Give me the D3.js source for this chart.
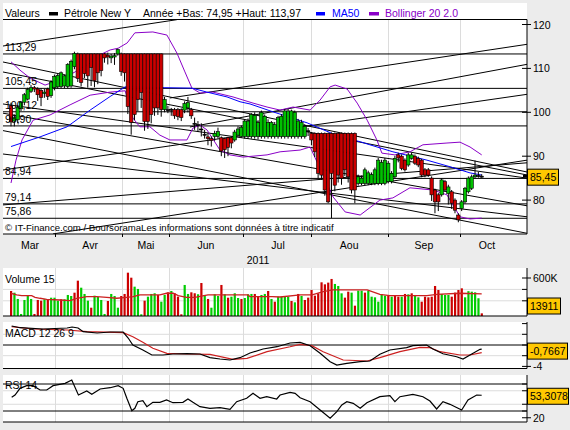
<!DOCTYPE html>
<html><head><meta charset="utf-8">
<script src="https://d3js.org/d3.v7.min.js"></script>
<style>
html,body{margin:0;padding:0;background:#ececec;}
svg{display:block;}
text{font-family:"Liberation Sans",Arial,Helvetica,sans-serif;}
</style></head><body>
<svg id="chart" width="570" height="430"></svg>
<script>
// ================= DATA =================
const months = ["Mar","Avr","Mai","Jun","Jul","Aou","Sep","Oct"];
const monthLabelIdx = [5.7,23.7,40.4,58.4,80,101.3,123.7,142.6];
const gridIdx = [13.2,33.2,47.3,69.5,89.9,112.9,134.5];
const yearLabel = "2011";

const priceTicks = [120,110,100,90,80];
const levels = [113.29,105.45,100.12,96.90,84.94,79.14,75.86];
const levelLabels = ["113,29","105,45","100,12","96,90","84,94","79,14","75,86"];

const opens = [101.5,98.0,98.3,100.8,102.3,103.0,104.8,105.6,105.3,105.0,104.3,105.3,103.8,105.6,105.8,105.9,106.0,105.9,106.0,110.4,
113.3,113.3,113.3,113.3,113.3,113.3,113.3,113.3,113.3,113.0,112.4,112.6,113.3,113.3,113.3,113.3,113.3,113.3,113.3,113.3,
113.3,113.3,113.3,113.3,113.3,113.3,100.6,100.6,100.6,100.6,100.6,100.6,100.5,101.0,100.6,97.5,97.0,96.2,94.8,94.4,
94.0,94.5,94.5,94.2,94.0,94.2,94.2,93.7,94.8,94.5,94.5,94.5,94.5,94.5,94.5,94.5,94.5,94.5,94.5,94.5,
94.5,94.5,94.5,94.5,94.5,94.5,94.5,94.5,94.5,95.8,95.2,95.2,95.2,95.2,95.2,95.2,95.2,95.2,95.2,95.2,
95.2,95.2,95.2,95.2,83.8,83.8,83.8,83.8,83.8,83.8,83.8,83.8,83.8,84.2,84.2,85.3,90.3,90.0,89.1,88.0,
89.5,90.0,89.5,89.1,86.9,86.9,85.0,82.3,81.2,81.2,84.2,81.5,81.9,80.0,76.6,78.1,79.6,81.9,82.7,85.3,
85.5,85.45];
const highs = [102.2,99.5,101.6,102.6,104.4,105.6,106.2,106.0,105.7,105.5,105.3,105.6,107.3,108.6,108.8,109.3,108.6,111.2,112.0,113.8,
113.6,113.4,113.4,113.4,113.4,113.4,113.4,113.4,113.5,113.6,113.3,113.5,114.5,113.6,113.4,113.4,113.4,113.4,113.4,113.4,
113.4,113.4,113.4,113.4,113.4,113.4,103.5,101.5,101.0,101.0,101.0,100.9,102.5,103.5,101.0,98.8,98.0,97.5,96.0,95.3,
94.5,95.8,96.5,94.5,94.2,94.4,94.4,96.0,96.8,97.0,98.4,98.6,99.8,100.0,98.2,100.4,99.5,98.4,98.0,97.8,
99.2,99.6,100.7,100.8,100.6,100.4,98.5,98.3,97.3,96.4,95.5,95.4,95.4,95.4,95.4,95.4,95.4,95.4,95.4,95.4,
95.4,95.4,95.4,95.4,85.8,85.6,87.4,86.7,86.3,87.4,89.6,89.2,89.6,88.9,86.6,90.1,90.8,90.4,89.5,90.8,
90.8,90.4,89.9,89.4,87.3,87.3,85.4,82.6,81.6,85.0,84.6,83.5,82.3,80.4,77.0,80.0,83.0,85.4,85.8,89.0,
86.4,85.9];
const lows = [96.8,96.8,97.5,100.3,101.6,102.7,104.4,104.6,102.6,101.4,103.3,102.8,103.3,105.0,105.4,105.5,105.5,105.5,105.6,109.8,
106.9,105.9,107.8,105.6,106.0,105.7,106.4,108.2,111.3,110.9,111.2,110.8,112.9,108.3,107.0,99.6,94.9,98.2,100.2,101.0,
95.8,96.2,97.5,99.2,99.4,99.0,100.0,99.8,99.2,98.5,98.2,98.0,99.8,100.0,98.5,96.0,95.5,94.5,94.0,92.5,
92.2,93.5,94.0,90.0,89.6,90.0,91.8,93.3,94.5,94.2,94.0,94.0,94.0,94.0,93.8,94.0,94.0,94.0,94.0,94.0,
94.0,94.0,94.0,94.0,94.0,94.0,94.0,94.0,94.0,94.6,92.5,89.8,85.0,84.6,81.0,79.3,75.9,82.0,84.0,83.5,
85.5,84.0,81.5,79.3,83.3,83.4,83.4,83.4,83.4,83.4,83.4,83.4,83.4,83.8,83.8,85.0,88.6,86.8,86.5,87.6,
89.2,88.0,87.5,85.2,85.2,85.3,79.8,77.0,77.5,80.8,81.9,79.0,78.0,77.0,74.95,77.5,79.2,81.5,82.3,85.0,
85.1,85.1];
const closes = [97.8,98.8,101.2,102.3,104.0,105.2,105.6,105.3,104.0,103.4,104.6,103.6,106.9,108.2,108.4,109.0,108.3,110.9,111.6,113.4,
107.7,106.8,108.8,108.3,110.2,107.2,109.0,109.5,112.4,112.6,112.8,112.9,114.3,109.3,109.0,101.3,97.7,99.5,102.9,104.5,
97.9,97.9,99.5,101.0,101.0,100.6,102.9,100.5,100.7,99.2,99.0,98.8,102.0,102.2,99.2,97.3,97.2,96.0,95.0,94.0,
93.6,95.2,95.6,91.2,91.5,92.0,93.0,95.5,96.2,96.6,98.0,98.0,99.5,99.3,97.7,100.0,99.1,97.7,97.7,97.2,
98.8,99.1,100.3,100.3,100.3,100.0,98.0,97.7,96.8,95.6,93.7,91.0,86.1,85.7,82.3,79.6,86.1,83.4,85.7,85.0,
86.9,85.3,82.3,82.3,85.3,85.0,86.9,86.2,85.8,86.9,89.1,88.6,89.1,88.4,86.1,89.5,89.6,87.2,86.9,90.3,
90.3,88.4,88.0,85.7,85.7,85.7,81.2,79.6,79.6,84.6,82.3,83.0,79.3,77.7,75.5,79.6,82.7,85.0,85.3,85.7,
85.6,85.45];

// volume (thousands) and bar direction (1 = up/green, 0 = down/red)
const volumes = [395,368,269,32,253,321,269,32,253,242,264,264,289,289,242,264,264,332,316,368,
558,447,348,242,131,321,300,253,32,237,348,316,131,316,348,684,605,463,427,27,
242,305,348,359,332,226,332,374,395,359,305,27,490,348,374,359,343,521,332,269,
131,343,316,490,343,289,305,359,284,269,284,343,348,348,305,332,348,395,269,226,
305,305,305,305,237,216,348,316,253,290,411,321,358,532,500,527,585,506,474,358,
290,384,369,163,400,400,369,400,305,295,226,342,321,321,305,316,305,305,348,342,
358,332,295,226,305,295,305,474,411,348,332,332,305,369,411,437,295,392,384,374,
280,42];
const volUp = [0,1,1,1,1,1,1,0,0,0,1,0,1,1,1,0,1,1,1,0,
0,1,1,1,0,1,1,1,1,0,1,1,1,0,0,0,0,1,1,1,
0,1,1,1,0,1,1,0,1,0,0,0,1,1,0,0,1,0,1,0,
1,1,1,0,1,0,1,1,1,0,1,1,1,0,0,1,1,0,1,0,
1,1,1,1,0,1,0,1,0,0,0,0,0,0,0,0,0,1,1,1,
0,0,1,0,1,1,0,1,1,1,1,1,1,0,1,0,0,1,0,1,
0,1,1,0,0,0,0,0,0,1,1,1,0,0,0,0,1,1,1,1,
1,0];
const volMaIdx = [0,1.7,3.2,6.2,7.2,8.7,10.7,14.7,17.7,19.7,22.7,25.7,28.7,31.7,34.7,36.6,38.6,44.6,46.6,48.6,50.1,52.6,55.1,59,71,71.6,78.2,80.6,86.6,90.2,93.5,96.5,106.7,110.5,113.5,124.6,127.6,134.5,141];
const volMaVal = [359,332,321,321,295,280,264,253,242,280,305,305,295,280,295,305,332,332,359,359,321,295,295,332,332,305,305,300,332,332,384,411,411,343,321,321,343,359,348];

const ma50Idx = [0,8.7,16.8,23.7,29.7,34.2,35.7,46.1,54.2,58.7,64.7,68.6,71.6,78.5,88.7,98.6,104.6,107.5,114.4,124.6,131.5,137.5,141];
const ma50Val = [92.2,94.4,96.7,100.5,103.6,105.8,105.8,105.6,105.5,104.6,103.5,102.4,101.9,100.1,97.6,94.4,93.3,92.6,91.0,89.1,87.6,86.2,85.7];

const bbUpIdx = [0,2.7,5.7,10.2,14.7,19.2,23.7,26.7,29.7,32.1,34.8,37.1,42.5,46.7,49.7,52.1,54.2,56.6,60.5,66.5,72.5,76.7,80.6,84.5,89.6,92.6,95.6,97.1,100.7,103.7,106.7,109.6,111.1,115,119.5,123.4,130.6,134.5,137.5,141];
const bbUpVal = [111.5,109.6,107.8,106.2,107.4,109.2,111.2,113.1,114.2,114.6,115.8,118.1,118.3,117.6,113.5,109.2,105.5,104.4,104.6,103.5,102.1,101.2,100.5,101.2,100.5,102.8,105.8,106.2,105.3,102.1,98.2,93.7,90.7,90.3,91.0,92.6,93.0,93.2,92.1,90.3];
const bbLoIdx = [0,1.5,3.3,6.6,11.7,17.7,23.7,29.7,34.2,36.5,38.6,41.6,44.6,47.6,52.7,54.5,56.6,58.7,62.6,65.6,69.5,76.7,80.6,86.6,89.6,96.5,100.1,104.6,110.5,114.4,119.5,126.4,130.6,134.5,137.5,141];
const bbLoVal = [83.9,89.1,93.7,98.2,99.4,101.7,103.9,104.6,104.9,98.7,96.7,96.7,94.8,93.7,93.7,96.4,97.1,96.0,91.4,90.3,89.8,90.3,91.0,91.4,92.1,80.7,77.3,76.6,80.0,80.5,82.8,82.3,81.2,76.2,75.7,75.9];

// trend lines: [idx1, value1, idx2, value2]
const trendLines = [
  [-2.4,115.1,49.7,121.1],
  [47.6,103.26,154.6,115.49],
  [53.6,96.65,154.6,110.93],
  [-2.4,86.86,154.6,104.10],
  [-2.4,111.46,154.6,86.40],
  [-2.4,109.18,154.6,85.72],
  [-2.4,101.9,154.6,85.0],
  [-2.4,99.8,154.6,78.7],
  [-2.4,90.5,154.6,76.2],
  [-2.4,95.83,154.6,72.44],
  [12.6,72.3,154.6,89.1],
  [-2.4,78.9,154.6,88.5]
];

const macdIdx = [0.2,2.7,9.6,16.8,18.3,20.1,21.6,25.8,29.7,33.6,35.1,36.5,39.5,42.2,45.5,48.5,52.7,56.6,59.6,62.6,65.6,68.6,71.6,75.5,79.7,83.6,86.6,89.6,92.6,95.6,97.6,100.6,104.6,107.5,110.5,113.5,118.5,120.4,124.5,126.4,129.4,133.5,135.4,137.5,140.5,141];
const macdVal = [3.55,3.23,2.99,3.18,3.36,3.18,2.49,2.24,2.43,2.43,1.31,0,-0.93,-1.87,-1.87,-1.68,-1.63,-1.68,-2.37,-2.62,-2.80,-2.37,-1.50,-0.75,-0.32,0.37,0.50,-0.13,-1.55,-3.12,-3.74,-3.42,-3.12,-2.99,-1.74,-0.93,-0.50,-0.13,0,-0.75,-1.63,-2.19,-2.62,-1.87,-0.80,-0.77];
const sigIdx = [0.2,6.6,16.8,22.8,33.6,36.5,39.5,42.5,46.7,52.7,59.6,66.5,70.7,76.7,83.6,86.6,90.1,93.5,99.5,106.7,110.5,116.5,122.5,125.5,128.5,134.5,137.5,141];
const sigVal = [3.42,2.99,2.80,2.49,2.30,1.55,0.50,-0.62,-1.55,-1.68,-1.74,-2.67,-2.49,-1.25,-0.32,0.13,-0.13,-1.25,-2.80,-2.99,-2.37,-1.25,-0.43,-0.50,-1.25,-1.87,-1.87,-1.44];

const rsiIdx = [0.2,1.2,2.7,4.7,6.6,8.7,10.7,11.7,12.6,16.2,18.2,20.2,22.7,24.2,26.7,29.7,32.1,33.6,34.7,36.2,37.1,38,39.5,40.7,42.5,44.6,46.6,48.5,51.5,53,54.5,56.6,59.6,62.6,65.6,67.6,70.6,72.5,74.6,76.6,79.6,80.6,83.6,85.1,86.6,89.6,92.6,95.6,97.6,99.1,100.6,102.5,104.6,106.6,110.5,113.5,115,116.5,120.4,123.4,125.5,127.5,129.4,131.5,135,136.9,139.5,141];
const rsiVal = [50.3,53.7,63.6,67.5,67.5,61.1,61.1,64.5,67.5,71.0,75.9,53.7,59.6,54.7,62.6,64.5,67.5,63.6,48.8,30.4,34.0,43.8,45.3,36.4,42.9,42.9,46.3,42.3,42.9,47.8,42.9,36.4,34.0,34.9,32.5,43.8,48.8,56.2,48.8,51.2,47.8,53.7,57.7,56.2,49.7,43.8,31.5,19.2,29.0,38.9,43.8,41.4,34.0,42.3,51.2,52.7,43.8,51.2,54.7,51.2,44.8,33.0,43.8,39.9,31.5,46.3,53.7,53.3];

const lastPrice = "85,45", lastVolume = "13911", lastMacd = "-0,7667", lastRsi = "53,3078";
const lastPriceVal = 85.45, lastMacdVal = -0.7667, lastRsiVal = 53.3078;

// ================= LAYOUT =================
const svg = d3.select("#chart");
const L = 3, R = 527;
const mainTop = 19.5, mainBot = 234;
const RED = "#cc0000", GREEN = "#00c000", PURPLE = "#8a00c8";

const x = d3.scaleLinear().domain([0,141]).range([11,481.7]);
const y = d3.scaleLinear().domain([80,120]).range([200.1,24.5]);
const yV = d3.scaleLinear().domain([0,600]).range([316,278]);
const yM = d3.scaleLinear().domain([-4,0]).range([366.4,345]);
const yR = d3.scaleLinear().domain([30,70]).range([411,384]);

const defs = svg.append("defs");
function clip(id, y0, y1){
  defs.append("clipPath").attr("id",id).append("rect").attr("x",L).attr("y",y0).attr("width",R-L).attr("height",y1-y0);
}
clip("cMain", mainTop, mainBot); clip("cVol",268,316); clip("cMacd",322,368.5); clip("cRsi",375,422);

svg.append("rect").attr("x",L).attr("y",3).attr("width",R-L).attr("height",mainBot-3).attr("fill","#fff");
[[268,316],[322,368.5],[375,422]].forEach(p=>svg.append("rect").attr("x",L).attr("y",p[0]).attr("width",R-L).attr("height",p[1]-p[0]).attr("fill","#fff"));

[[mainTop,mainBot],[268,316],[322,368.5],[375,422]].forEach(p=>{
  svg.append("g").selectAll("line").data(gridIdx).join("line")
    .attr("x1",d=>Math.round(x(d))+0.5).attr("x2",d=>Math.round(x(d))+0.5)
    .attr("y1",p[0]).attr("y2",p[1]).attr("stroke","#dcdcdc");
});

const T = svg.append("g").attr("font-size",10.5);
T.append("text").attr("x",5).attr("y",16.5).text("Valeurs");
T.append("rect").attr("x",49).attr("y",12).attr("width",9).attr("height",3.5).attr("fill","#000");
T.append("text").attr("x",64).attr("y",16.5).text("Pétrole New Y");
T.append("text").attr("x",143).attr("y",16.5).text("Année +Bas: 74,95 +Haut: 113,97");
T.append("rect").attr("x",316).attr("y",12).attr("width",9).attr("height",3.5).attr("fill","#0000ff");
T.append("text").attr("x",332).attr("y",16.5).attr("fill","#0000ff").text("MA50");
T.append("rect").attr("x",369).attr("y",12).attr("width",10).attr("height",3.5).attr("fill",PURPLE);
T.append("text").attr("x",385).attr("y",16.5).attr("fill",PURPLE).text("Bollinger 20 2.0");

const gm = svg.append("g").attr("clip-path","url(#cMain)");
gm.append("g").selectAll("line").data(levels).join("line")
  .attr("x1",L).attr("x2",R).attr("y1",d=>y(d)).attr("y2",d=>y(d)).attr("stroke","#000");
gm.append("g").selectAll("line").data(trendLines).join("line")
  .attr("x1",d=>x(d[0])).attr("y1",d=>y(d[1])).attr("x2",d=>x(d[2])).attr("y2",d=>y(d[3]))
  .attr("stroke","#000");
const lineP = (ix,vals,ys)=>d3.line().x((d,i)=>x(ix[i])).y(d=>ys(d))(vals);
gm.append("path").attr("d",lineP(bbUpIdx,bbUpVal,y)).attr("fill","none").attr("stroke",PURPLE);
gm.append("path").attr("d",lineP(bbLoIdx,bbLoVal,y)).attr("fill","none").attr("stroke",PURPLE);
gm.append("path").attr("d",lineP(ma50Idx,ma50Val,y)).attr("fill","none").attr("stroke","#0000ff");
const cg = gm.append("g");
closes.forEach((c,i)=>{
  const o = opens[i], xi = x(i);
  cg.append("line").attr("x1",xi).attr("x2",xi).attr("y1",y(highs[i])).attr("y2",y(lows[i])).attr("stroke","#000");
  const top = y(Math.max(o,c)), bot = y(Math.min(o,c));
  const doji = Math.abs(o-c) < 0.25;
  cg.append("rect").attr("x",xi-1.7).attr("width",3.4).attr("y",top).attr("height",Math.max(1,bot-top))
    .attr("fill", doji ? "#000" : (c<o ? RED : GREEN)).attr("stroke","#000").attr("stroke-width",0.6);
});
svg.append("g").attr("font-size",10.5).selectAll("text").data(levels).join("text")
  .attr("x",5).attr("y",d=>y(d)-3).text((d,i)=>levelLabels[i]);
svg.append("text").attr("x",5).attr("y",231).attr("font-size",9.6).text("© IT-Finance.com / BoursoramaLes informations sont données à titre indicatif");
svg.append("line").attr("x1",L).attr("x2",R).attr("y1",mainTop).attr("y2",mainTop).attr("stroke","#000");
svg.append("line").attr("x1",L).attr("x2",R).attr("y1",mainBot).attr("y2",mainBot).attr("stroke","#000");
svg.append("line").attr("x1",R).attr("x2",R).attr("y1",mainTop).attr("y2",mainBot).attr("stroke","#000");
const ga = svg.append("g").attr("font-size",10.5);
priceTicks.forEach(t=>{
  ga.append("line").attr("x1",R).attr("x2",R+4).attr("y1",y(t)).attr("y2",y(t)).attr("stroke","#000");
  ga.append("line").attr("x1",R-5).attr("x2",R).attr("y1",y(t)).attr("y2",y(t)).attr("stroke","#000");
  ga.append("text").attr("x",R+6).attr("y",y(t)+4).text(t);
});
svg.append("rect").attr("x",523).attr("y",y(lastPriceVal)-1.5).attr("width",4).attr("height",3).attr("fill","#000");
function box(yc,label,w){
  svg.append("rect").attr("x",R+0.5).attr("y",yc-8).attr("width",w).attr("height",16).attr("fill","#ffc800").attr("stroke","#000");
  svg.append("text").attr("x",R+3).attr("y",yc+4).attr("font-size",10.5).text(label);
}
box(y(lastPriceVal)+1,lastPrice,31);

svg.append("g").selectAll("line").data(gridIdx).join("line")
  .attr("x1",d=>Math.round(x(d))+0.5).attr("x2",d=>Math.round(x(d))+0.5).attr("y1",mainBot).attr("y2",mainBot+3).attr("stroke","#000");
svg.append("g").attr("font-size",10.5).selectAll("text").data(months).join("text")
  .attr("x",(d,i)=>x(monthLabelIdx[i])).attr("y",249).attr("text-anchor","middle").text(d=>d);
svg.append("text").attr("x",x(74)).attr("y",264).attr("font-size",10.5).attr("text-anchor","middle").text(yearLabel);

const gv = svg.append("g").attr("clip-path","url(#cVol)");
[240,420].forEach(t=>gv.append("line").attr("x1",L).attr("x2",R).attr("y1",yV(t)).attr("y2",yV(t)).attr("stroke","#dcdcdc"));
gv.append("g").selectAll("rect").data(volumes).join("rect")
  .attr("x",(d,i)=>x(i)-1).attr("width",2.2).attr("y",d=>yV(d)).attr("height",d=>316-yV(d))
  .attr("fill",(d,i)=>volUp[i]?"#00cc00":"#cc0000");
gv.append("path").attr("d",lineP(volMaIdx,volMaVal,yV)).attr("fill","none").attr("stroke","#cc2020").attr("stroke-width",1.3);
svg.append("text").attr("x",5).attr("y",283).attr("font-size",10.5).text("Volume 15");
svg.append("line").attr("x1",L).attr("x2",R).attr("y1",316).attr("y2",316).attr("stroke","#000");
svg.append("line").attr("x1",R).attr("x2",R).attr("y1",268).attr("y2",316).attr("stroke","#000");
[600,420,240].forEach(t=>svg.append("line").attr("x1",R-5).attr("x2",R).attr("y1",yV(t)).attr("y2",yV(t)).attr("stroke","#000"));
svg.append("line").attr("x1",R).attr("x2",R+4).attr("y1",yV(600)).attr("y2",yV(600)).attr("stroke","#000");
svg.append("text").attr("x",R+6).attr("y",yV(600)+4).attr("font-size",10.5).text("600K");
box(306,lastVolume,33);

const gmc = svg.append("g").attr("clip-path","url(#cMacd)");
[2,-2].forEach(t=>gmc.append("line").attr("x1",L).attr("x2",R).attr("y1",yM(t)).attr("y2",yM(t)).attr("stroke","#dcdcdc"));
gmc.append("line").attr("x1",L).attr("x2",R).attr("y1",yM(0)).attr("y2",yM(0)).attr("stroke","#000");
gmc.append("path").attr("d",lineP(sigIdx,sigVal,yM)).attr("fill","none").attr("stroke","#cc2020").attr("stroke-width",1.2);
gmc.append("path").attr("d",lineP(macdIdx,macdVal,yM)).attr("fill","none").attr("stroke","#000").attr("stroke-width",1.2);
svg.append("text").attr("x",5).attr("y",337).attr("font-size",10.5).text("MACD 12 26 9");
svg.append("line").attr("x1",L).attr("x2",R).attr("y1",368.5).attr("y2",368.5).attr("stroke","#000");
svg.append("line").attr("x1",R).attr("x2",R).attr("y1",322).attr("y2",368.5).attr("stroke","#000");
[4,2,0,-2,-4].forEach(t=>svg.append("line").attr("x1",R-5).attr("x2",R).attr("y1",yM(t)).attr("y2",yM(t)).attr("stroke","#000"));
svg.append("line").attr("x1",R).attr("x2",R+4).attr("y1",yM(-4)).attr("y2",yM(-4)).attr("stroke","#000");
svg.append("text").attr("x",R+6).attr("y",yM(-4)+4).attr("font-size",10.5).text("-4");
box(yM(lastMacdVal)+2,lastMacd,40);

const gr = svg.append("g").attr("clip-path","url(#cRsi)");
[60,40].forEach(t=>gr.append("line").attr("x1",L).attr("x2",R).attr("y1",yR(t)).attr("y2",yR(t)).attr("stroke","#dcdcdc"));
[70,30].forEach(t=>gr.append("line").attr("x1",L).attr("x2",R).attr("y1",yR(t)).attr("y2",yR(t)).attr("stroke","#000"));
gr.append("path").attr("d",lineP(rsiIdx,rsiVal,yR)).attr("fill","none").attr("stroke","#000").attr("stroke-width",1.2);
svg.append("text").attr("x",5).attr("y",389).attr("font-size",10.5).text("RSI 14");
svg.append("line").attr("x1",L).attr("x2",R).attr("y1",422).attr("y2",422).attr("stroke","#000");
svg.append("line").attr("x1",R).attr("x2",R).attr("y1",375).attr("y2",422).attr("stroke","#000");
[70,60,40,30,20].forEach(t=>svg.append("line").attr("x1",R-5).attr("x2",R).attr("y1",yR(t)).attr("y2",yR(t)).attr("stroke","#000"));
svg.append("line").attr("x1",R).attr("x2",R+4).attr("y1",yR(20)).attr("y2",yR(20)).attr("stroke","#000");
svg.append("text").attr("x",R+6).attr("y",yR(20)+4).attr("font-size",10.5).text("20");
box(yR(lastRsiVal)+1,lastRsi,41);
</script>
</body></html>
